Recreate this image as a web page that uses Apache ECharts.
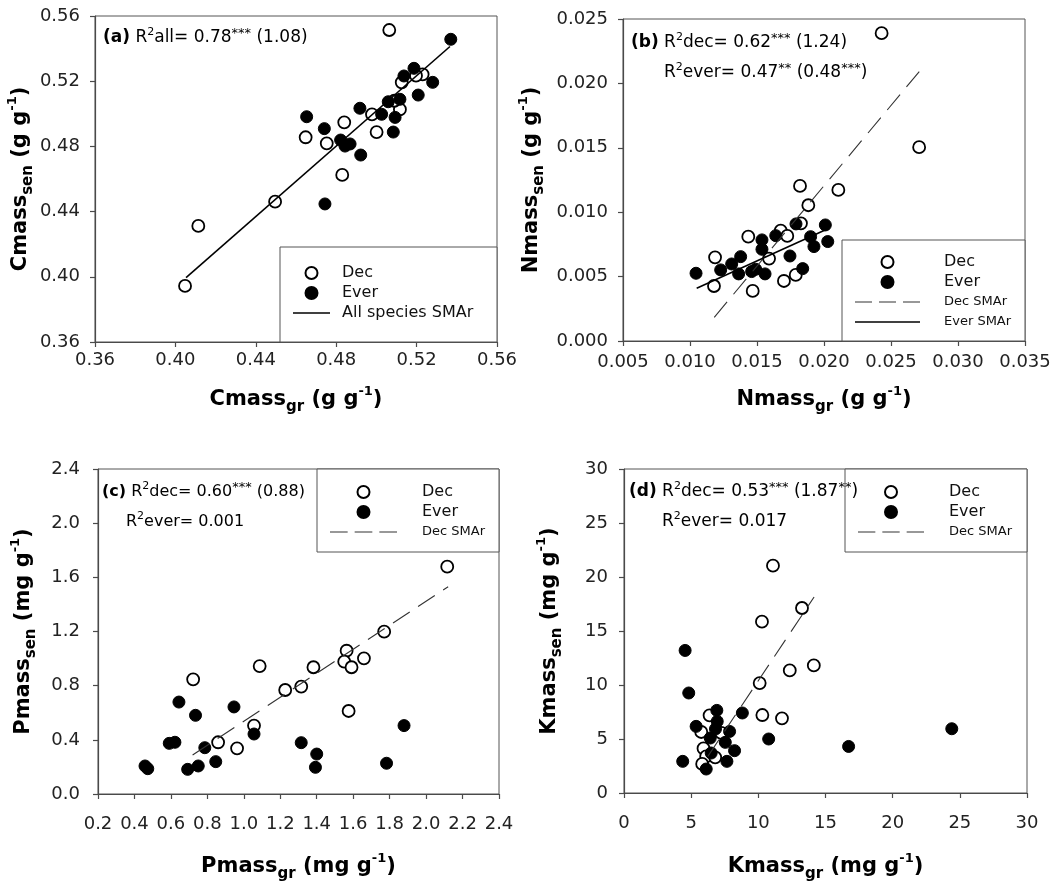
<!DOCTYPE html>
<html>
<head>
<meta charset="utf-8">
<script src="https://cdn.jsdelivr.net/npm/echarts@6/dist/echarts.min.js"></script>
<style>
  html, body { margin: 0; padding: 0; background: #fff; }
  #chart { width: 1060px; height: 893px; }
</style>
</head>
<body>
<div id="chart"></div>
<script>
// ---- Data: green-leaf (x) vs senesced-leaf (y) nutrient concentrations ----

// (a) Carbon, g g-1
const cmassDec = [[0.5064, 0.5514], [0.4048, 0.3944], [0.4114, 0.4312], [0.4496, 0.4461], [0.4648, 0.4856],
  [0.4753, 0.4819], [0.4840, 0.4948], [0.4830, 0.4625], [0.5001, 0.4888], [0.4978, 0.4997],
  [0.5117, 0.5027], [0.5126, 0.5193], [0.5230, 0.5242], [0.5089, 0.5080], [0.5197, 0.5234]];
const cmassEver = [[0.5370, 0.5457], [0.4653, 0.4982], [0.4741, 0.4909], [0.4744, 0.4447], [0.4918, 0.5034],
  [0.4822, 0.4839], [0.4844, 0.4802], [0.4869, 0.4815], [0.4922, 0.4747], [0.5026, 0.4997],
  [0.5059, 0.5074], [0.5117, 0.5089], [0.5093, 0.4978], [0.5084, 0.4888], [0.5137, 0.5232],
  [0.5187, 0.5279], [0.5208, 0.5115], [0.5280, 0.5193]];
const cmassAllSMA = [[0.4053, 0.3995], [0.5366, 0.5413]];

// (b) Nitrogen, g g-1
const nmassDec = [[0.0243, 0.0239], [0.0271, 0.01505], [0.01821, 0.01204], [0.02107, 0.01173], [0.01883, 0.01054],
  [0.01828, 0.00914], [0.01435, 0.0081], [0.01677, 0.00857], [0.01726, 0.00816], [0.01187, 0.0065],
  [0.0159, 0.0064], [0.01179, 0.00427], [0.01468, 0.00389], [0.01701, 0.00466], [0.01789, 0.00513]];
const nmassEver = [[0.01045, 0.00526], [0.01229, 0.00552], [0.01311, 0.00598], [0.01378, 0.00655], [0.01363, 0.00521],
  [0.0146, 0.00539], [0.0149, 0.00557], [0.0156, 0.00521], [0.01537, 0.00785], [0.01537, 0.00712],
  [0.0164, 0.00818], [0.01746, 0.0066], [0.01791, 0.00909], [0.01841, 0.00562], [0.019, 0.0081],
  [0.01925, 0.00733], [0.0201, 0.00901], [0.02028, 0.00772]];
const nmassDecSMA = [[0.01181, 0.00184], [0.02716, 0.02098]];
const nmassEverSMA = [[0.0105, 0.0041], [0.02025, 0.0087]];

// (c) Phosphorus, mg g-1
const pmassDec = [[2.116, 1.679], [1.77, 1.199], [1.564, 1.058], [1.551, 0.977], [1.591, 0.936],
  [1.659, 1.002], [1.382, 0.936], [1.315, 0.793], [1.227, 0.768], [1.087, 0.945],
  [0.722, 0.847], [1.575, 0.613], [1.056, 0.505], [0.859, 0.382], [0.963, 0.337]];
const pmassEver = [[0.644, 0.679], [0.735, 0.581], [0.946, 0.643], [0.591, 0.374], [0.622, 0.382],
  [0.786, 0.342], [1.056, 0.443], [1.315, 0.379], [1.40, 0.295], [1.393, 0.197],
  [1.879, 0.505], [1.783, 0.227], [0.458, 0.207], [0.473, 0.187], [0.692, 0.182],
  [0.75, 0.207], [0.846, 0.239]];
const pmassDecSMA = [[0.719, 0.288], [2.121, 1.531]];

// (d) Potassium, mg g-1
const kmassDec = [[11.09, 21.05], [13.25, 17.13], [10.27, 15.86], [14.13, 11.81], [12.34, 11.35],
  [10.1, 10.18], [10.3, 7.22], [11.76, 6.91], [6.37, 7.19], [5.75, 5.65],
  [5.92, 4.13], [6.12, 3.39], [5.82, 2.69], [6.79, 3.3], [7.24, 5.56]];
const kmassEver = [[4.55, 13.2], [4.82, 9.26], [4.37, 2.93], [5.37, 6.17], [6.12, 2.22],
  [6.42, 5.09], [6.49, 3.7], [6.91, 7.65], [6.94, 6.63], [6.81, 5.93],
  [7.86, 5.7], [7.54, 4.69], [8.23, 3.92], [7.66, 2.93], [8.81, 7.41],
  [10.77, 5.0], [16.72, 4.31], [24.4, 5.95]];
const kmassDecSMA = [[6.24, 3.39], [14.15, 18.15]];

// Axis ranges: [min, max, interval, decimals]
const axisRanges = {
  a: { x: [0.36, 0.56, 0.04, 2], y: [0.36, 0.56, 0.04, 2] },
  b: { x: [0.005, 0.035, 0.005, 3], y: [0.0, 0.025, 0.005, 3] },
  c: { x: [0.2, 2.4, 0.2, 1], y: [0.0, 2.4, 0.4, 1] },
  d: { x: [0, 30, 5, 0], y: [0, 30, 5, 0] }
};

// Axis titles (rich text: sub = subscript, sup = superscript)
const axisTitles = {
  a: { x: 'Cmass{sub|gr} (g g{sup|-1})', y: 'Cmass{sub|sen} (g g{sup|-1})' },
  b: { x: 'Nmass{sub|gr} (g g{sup|-1})', y: 'Nmass{sub|sen} (g g{sup|-1})' },
  c: { x: 'Pmass{sub|gr} (mg g{sup|-1})', y: 'Pmass{sub|sen} (mg g{sup|-1})' },
  d: { x: 'Kmass{sub|gr} (mg g{sup|-1})', y: 'Kmass{sub|sen} (mg g{sup|-1})' }
};

// Panel statistics text
const statLines = {
  a: ['{b|(a)} R{sup|2}all= 0.78{st|***} (1.08)'],
  b: ['{b|(b)} R{sup|2}dec= 0.62{st|***} (1.24)', 'R{sup|2}ever= 0.47{st|**} (0.48{st|***})'],
  c: ['{b|(c)} R{sup|2}dec= 0.60{st|***} (0.88)', 'R{sup|2}ever= 0.001'],
  d: ['{b|(d)} R{sup|2}dec= 0.53{st|***} (1.87{st|**})', 'R{sup|2}ever= 0.017']
};

const FONT = '"DejaVu Sans", "Liberation Sans", Arial, sans-serif';
const AXIS_COLOR = '#4a4a4a';

// Plot-area placement of each panel
const grids = [
  { left: 95, top: 16, width: 402, height: 326 },
  { left: 623, top: 19, width: 402, height: 322 },
  { left: 98, top: 469, width: 401, height: 325 },
  { left: 624, top: 469, width: 403, height: 324 }
];

const nameRich = {
  sub: { fontSize: 15, fontWeight: 'bold', fontFamily: FONT, color: '#000', verticalAlign: 'bottom', lineHeight: 14 },
  sup: { fontSize: 13, fontWeight: 'bold', fontFamily: FONT, color: '#000', verticalAlign: 'top', lineHeight: 12 }
};

function axis(gridIndex, range, title, isX, labelMargin, nameGap) {
  const [min, max, interval, dec] = range;
  return {
    type: 'value', gridIndex, min, max, interval,
    splitLine: { show: false },
    axisLine: { show: true, onZero: false, lineStyle: { color: AXIS_COLOR, width: 1.2 } },
    axisTick: { show: true, inside: false, length: 5, lineStyle: { color: AXIS_COLOR, width: 1.2 } },
    axisLabel: {
      show: true, margin: labelMargin, color: '#222', fontSize: 18, fontFamily: FONT,
      formatter: v => Number(v).toFixed(dec),
      showMinLabel: true, showMaxLabel: true
    },
    name: title,
    nameLocation: 'middle',
    nameGap,
    nameRotate: isX ? 0 : 90,
    nameTextStyle: {
      fontSize: 21, fontWeight: 'bold', fontFamily: FONT, color: '#000', lineHeight: 30,
      rich: nameRich
    }
  };
}

const xAxes = [
  axis(0, axisRanges.a.x, axisTitles.a.x, true, 9, 43),
  axis(1, axisRanges.b.x, axisTitles.b.x, true, 12, 44),
  axis(2, axisRanges.c.x, axisTitles.c.x, true, 21, 58),
  axis(3, axisRanges.d.x, axisTitles.d.x, true, 21, 59)
];
const yAxes = [
  axis(0, axisRanges.a.y, axisTitles.a.y, false, 15, 58),
  axis(1, axisRanges.b.y, axisTitles.b.y, false, 15, 76),
  axis(2, axisRanges.c.y, axisTitles.c.y, false, 18, 59),
  axis(3, axisRanges.d.y, axisTitles.d.y, false, 16, 59)
];

const openStyle = { color: '#fff', borderColor: '#000', borderWidth: 1.8, opacity: 1 };
const filledStyle = { color: '#000', borderColor: '#000', borderWidth: 1, opacity: 1 };

function scatter(name, idx, data, filled) {
  return {
    type: 'scatter', name, xAxisIndex: idx, yAxisIndex: idx, data,
    symbol: 'circle', symbolSize: 12,
    itemStyle: filled ? filledStyle : openStyle,
    z: filled ? 3 : 2
  };
}
function smaLine(name, idx, data, dashed) {
  return {
    type: 'line', name, xAxisIndex: idx, yAxisIndex: idx, data,
    symbol: 'none', showSymbol: false, silent: true,
    itemStyle: { color: dashed ? '#333' : '#000' },
    lineStyle: dashed
      ? { color: '#333', width: 1.1, type: [20, 10] }
      : { color: '#000', width: 1.6, type: 'solid' },
    z: 4
  };
}

const series = [
  scatter('Dec', 0, cmassDec, false),
  scatter('Ever', 0, cmassEver, true),
  smaLine('All species SMAr', 0, cmassAllSMA, false),

  scatter('Dec', 1, nmassDec, false),
  scatter('Ever', 1, nmassEver, true),
  smaLine('Dec SMAr', 1, nmassDecSMA, true),
  smaLine('Ever SMAr', 1, nmassEverSMA, false),

  scatter('Dec', 2, pmassDec, false),
  scatter('Ever', 2, pmassEver, true),
  smaLine('Dec SMAr', 2, pmassDecSMA, true),

  scatter('Dec', 3, kmassDec, false),
  scatter('Ever', 3, kmassEver, true),
  smaLine('Dec SMAr', 3, kmassDecSMA, true)
];

// Legend icons for the SMA lines (solid bar / three dashes)
function solidIcon(w) { return 'path://M0,0H' + w + 'V1.6H0Z'; }
function dashIcon(w) {
  const d = (w - 14) / 3;
  return 'path://M0,0H' + d + 'V1.1H0Z M' + (d + 7) + ',0H' + (2 * d + 7) + 'V1.1H' + (d + 7) +
    'Z M' + (2 * d + 14) + ',0H' + w + 'V1.1H' + (2 * d + 14) + 'Z';
}
function lineEntry(name, w, dashed) {
  return {
    name, icon: dashed ? dashIcon(w) : solidIcon(w),
    itemStyle: { color: dashed ? '#333' : '#000', borderWidth: 0 }
  };
}

function legend(left, top, names, iconWidth, textGap) {
  return {
    orient: 'vertical', left, top, padding: 0, itemGap: 4,
    itemWidth: iconWidth, itemHeight: 12,
    selectedMode: false, z: 6,
    data: names,
    formatter: n => n.indexOf('SMAr') >= 0 && n !== 'All species SMAr' ? '{s|' + n + '}' : n,
    textStyle: {
      fontSize: 16, fontFamily: FONT, color: '#111', lineHeight: 16, padding: [0, 0, 0, textGap],
      rich: { s: { fontSize: 13, fontFamily: FONT, color: '#111', lineHeight: 16 } }
    }
  };
}
const legends = [
  legend(293, 265, ['Dec', 'Ever', lineEntry('All species SMAr', 37, false)], 37, 7),
  legend(855, 254, ['Dec', 'Ever', lineEntry('Dec SMAr', 65, true), lineEntry('Ever SMAr', 65, false)], 65, 19),
  legend(330, 484, ['Dec', 'Ever', lineEntry('Dec SMAr', 67, true)], 67, 20),
  legend(858, 484, ['Dec', 'Ever', lineEntry('Dec SMAr', 66, true)], 66, 20)
];

// Legend frames
const legendBoxes = [
  { x: 280, y: 247, w: 217, h: 95 },
  { x: 842, y: 240, w: 183, h: 101 },
  { x: 317, y: 469, w: 182, h: 83 },
  { x: 845, y: 469, w: 182, h: 83 }
];

function statRich(size) {
  return {
    b: { fontSize: size, fontWeight: 'bold', fontFamily: FONT, color: '#000', lineHeight: 22 },
    sup: { fontSize: 11, fontFamily: FONT, color: '#000', verticalAlign: 'top', lineHeight: 10 },
    st: { fontSize: 13, fontFamily: FONT, color: '#000', verticalAlign: 'top', lineHeight: 14 }
  };
}
function statText(x, y, text, size) {
  return {
    type: 'text', x, y, z: 7,
    style: {
      text, rich: statRich(size), fill: '#000',
      font: size + 'px ' + FONT, verticalAlign: 'middle', lineHeight: 22
    }
  };
}

const graphics = legendBoxes.map(b => ({
  type: 'rect', z: 5,
  shape: { x: b.x, y: b.y, width: b.w, height: b.h },
  style: { fill: '#fff', stroke: '#555', lineWidth: 1 }
})).concat([
  statText(103, 38, statLines.a[0], 17),
  statText(631, 43, statLines.b[0], 17),
  statText(664, 73, statLines.b[1], 17),
  statText(102, 492, statLines.c[0], 16),
  statText(126, 522, statLines.c[1], 16),
  statText(629, 492, statLines.d[0], 17),
  statText(662, 522, statLines.d[1], 17)
]);

const chart = echarts.init(document.getElementById('chart'), null, { renderer: 'canvas' });
chart.setOption({
  animation: false,
  backgroundColor: '#fff',
  textStyle: { fontFamily: FONT },
  grid: grids.map(g => Object.assign({ show: true, borderColor: '#555', borderWidth: 1, backgroundColor: 'transparent' }, g)),
  xAxis: xAxes,
  yAxis: yAxes,
  legend: legends,
  graphic: graphics,
  series
});
</script>
</body>
</html>
